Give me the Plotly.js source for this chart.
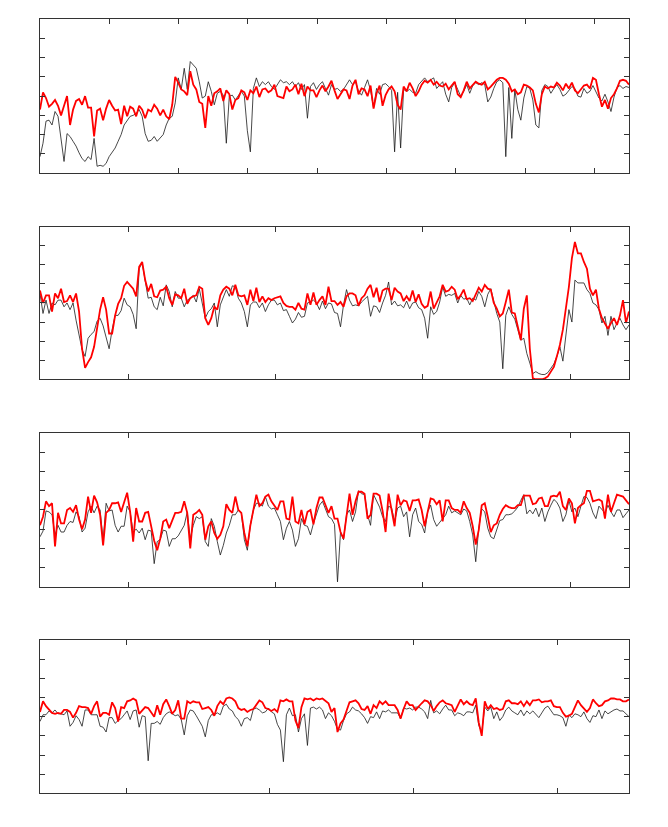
<!DOCTYPE html>
<html>
<head>
<meta charset="utf-8">
<script src="https://cdn.plot.ly/plotly-3.0.1.min.js"></script>
<style>html,body{margin:0;padding:0;background:#fff}</style>
</head>
<body>
<div id="plot" style="width:668px;height:827px"></div>
<script>
// panel 1
var blackA = [0.85,1.55,2.7,2.75,2.5,3.2,2.95,1.9,0.6,2.05,
  1.9,1.65,1.4,1.05,0.75,0.6,0.85,0.7,1.8,0.35,
  0.4,0.35,0.5,0.85,1.1,1.3,1.65,2.0,2.5,2.75,
  2.95,3.0,3.1,3.3,2.95,2.05,1.65,1.7,1.9,1.65,
  1.8,2.0,2.5,2.85,2.95,3.65,4.95,4.35,5.45,4.35,
  5.8,5.65,5.45,4.75,3.9,4.0,4.75,4.25,3.55,4.15,
  4.25,4.05,1.55,4.0,4.05,3.8,4.05,4.25,4.0,2.2,
  1.1,4.4,4.95,4.5,4.75,4.6,4.75,4.5,4.35,4.6,
  4.85,4.7,4.75,4.6,4.75,4.5,4.7,4.35,4.6,2.85,
  4.5,4.7,4.35,4.6,4.75,4.4,4.05,4.6,4.35,4.4,
  4.25,4.35,4.6,4.85,4.6,4.75,4.25,4.05,4.45,4.85,
  4.3,3.4,4.4,4.1,4.6,4.65,4.5,4.3,1.1,4.2,
  1.3,4.35,4.25,4.35,4.2,4.15,4.6,4.8,4.95,4.75,
  4.85,4.95,4.4,4.6,4.75,4.1,3.7,4.45,4.7,4.35,
  4.0,4.25,4.6,4.15,4.55,4.7,4.6,4.7,4.6,3.7,
  3.95,4.4,4.75,4.85,4.7,0.85,4.45,1.8,4.35,3.3,
  2.75,3.9,4.5,4.4,3.8,2.5,2.35,4.3,4.6,4.5,
  4.15,4.4,4.6,4.35,4.0,4.1,4.3,4.5,4.4,4.0,
  3.95,4.4,4.15,4.25,4.55,4.2,3.9,3.75,4.1,3.7,
  3.2,3.95,4.45,4.55,4.4,4.5,4.45];
var redA = [3.3,4.2,3.9,3.45,3.6,3.8,3.5,3.0,3.5,4.0,
  2.5,3.3,3.75,3.85,3.55,4.0,3.4,3.4,1.9,3.25,
  3.35,2.75,3.35,3.8,3.5,3.25,3.3,2.55,3.5,2.95,
  3.45,3.35,2.95,3.5,3.3,2.85,3.3,3.2,3.55,3.35,
  3.0,3.3,2.95,2.8,3.55,5.0,4.7,4.35,4.25,4.05,
  5.3,4.6,4.35,3.7,3.6,2.35,4.0,3.5,4.15,4.25,
  4.4,3.75,4.3,4.1,3.3,3.8,3.9,4.3,4.2,3.8,
  4.3,4.15,4.5,3.95,4.35,4.4,4.2,4.3,4.6,4.0,
  3.95,3.9,4.5,4.25,4.35,4.6,4.1,4.65,4.0,4.5,
  4.3,4.3,3.95,4.3,4.55,4.25,4.5,4.8,4.3,3.85,
  4.1,4.35,4.3,3.85,4.55,4.85,4.1,4.4,4.35,4.0,
  4.55,3.35,4.15,4.55,3.5,4.05,4.35,4.5,4.25,3.55,
  3.3,4.5,4.25,4.7,4.4,4.0,4.25,4.6,4.8,4.7,
  4.85,4.6,4.75,4.55,4.5,4.65,4.35,4.55,4.75,4.1,
  3.95,4.3,4.75,4.4,4.55,4.75,4.65,4.6,4.75,4.35,
  4.5,4.7,4.85,4.95,4.95,4.85,4.65,4.25,4.35,4.1,
  4.2,4.6,4.55,4.45,4.3,3.6,3.15,4.1,4.5,4.4,
  4.5,4.45,4.7,4.55,4.3,4.65,4.4,4.7,4.3,4.15,
  4.35,4.55,4.6,4.4,4.95,4.85,4.1,3.45,3.8,3.35,
  3.9,4.1,4.4,4.8,4.85,4.8,4.6];

// panel 2
var blackB = [4.5,3.45,4.15,3.45,4.0,3.9,4.15,4.15,3.8,4.0,
  3.65,4.0,3.1,2.25,1.55,1.2,2.15,2.35,2.5,3.05,
  3.2,2.8,2.2,1.6,2.6,3.35,3.35,3.6,4.25,3.9,
  3.8,3.4,2.65,5.8,6.1,5.1,4.25,4.3,3.8,3.65,
  4.3,3.85,4.95,4.6,3.8,4.6,4.25,4.25,3.8,4.15,
  4.25,4.4,4.05,4.75,3.9,3.2,3.55,3.7,4.0,2.75,
  3.9,4.35,4.7,4.35,4.9,4.85,4.25,4.0,3.55,2.75,
  3.9,4.05,4.05,3.75,4.0,3.55,3.9,4.15,4.15,3.9,
  4.0,3.6,3.65,3.3,2.95,3.15,3.5,3.25,3.3,4.0,
  4.05,4.15,4.0,3.65,4.1,3.7,4.0,3.95,3.5,3.45,
  2.75,3.9,4.7,4.15,3.85,3.9,3.85,4.05,4.2,4.35,
  3.3,3.85,3.8,3.5,4.0,4.4,5.1,3.9,4.1,3.85,
  3.9,3.75,4.1,3.7,4.0,4.05,3.75,3.65,3.2,2.15,
  3.8,3.4,3.55,4.05,4.85,4.35,4.45,4.4,4.5,4.0,
  4.4,4.2,4.25,3.9,4.25,4.15,4.6,4.35,3.8,4.45,
  4.75,4.05,3.45,3.0,0.55,3.35,3.8,3.4,3.15,2.6,
  2.05,2.15,1.35,0.85,0.3,0.4,0.3,0.25,0.25,0.35,
  0.6,0.8,1.2,1.7,0.95,2.35,3.65,3.0,5.2,5.05,
  5.05,5.05,4.7,4.5,4.0,3.9,3.65,2.95,3.3,2.3,
  3.3,2.6,2.95,3.2,2.85,2.6,2.85];
var redB = [4.65,4.0,4.4,4.4,3.55,4.5,4.25,4.75,4.05,4.1,
  4.4,4.05,4.5,3.55,1.6,0.6,0.9,1.15,1.7,2.75,
  3.65,4.3,3.65,2.4,2.4,3.35,3.95,4.25,4.9,5.1,
  4.9,4.75,4.35,5.9,6.15,5.2,4.6,5.0,4.35,4.3,
  4.65,4.7,4.85,4.25,3.9,4.45,4.4,4.25,4.75,3.95,
  4.25,4.35,4.4,4.85,4.75,3.2,2.85,3.2,3.8,3.65,
  4.4,4.7,4.85,4.75,4.4,4.95,4.4,4.35,4.4,3.9,
  4.7,4.1,4.8,4.05,4.35,4.05,4.25,4.15,4.25,4.3,
  4.35,4.0,3.85,3.8,3.8,3.65,4.0,3.7,3.65,4.5,
  3.9,4.55,3.9,4.15,4.35,3.9,4.85,4.1,4.1,3.9,
  4.05,3.8,4.35,4.5,4.5,4.4,3.85,4.25,4.4,4.75,
  4.95,4.3,4.8,4.05,4.65,4.75,4.75,4.15,4.8,4.6,
  4.5,4.1,4.35,4.1,4.65,4.05,4.45,3.95,3.75,3.85,
  4.6,3.7,4.05,4.35,4.95,4.6,4.65,4.85,4.7,4.2,
  4.4,4.7,4.2,4.25,4.1,4.5,4.8,4.6,4.95,4.75,
  4.7,4.0,3.7,3.3,3.45,4.05,4.7,3.5,3.45,2.75,
  2.05,3.7,4.4,1.6,0.05,0.0,0.0,0.0,0.05,0.15,
  0.4,0.65,1.2,1.8,2.6,3.65,4.85,6.35,7.2,6.6,
  6.6,6.15,5.8,4.75,4.4,4.7,3.7,3.2,2.95,2.65,
  2.95,3.2,2.85,3.35,4.15,2.95,3.55];

// panel 3
var blackC = [2.6,2.9,3.95,3.9,3.75,2.7,3.2,2.85,2.85,3.2,
  3.4,3.35,3.9,3.65,2.85,3.05,3.9,4.2,3.85,4.2,
  4.0,2.4,4.35,3.95,4.0,3.2,2.85,3.15,3.15,4.2,
  3.9,2.85,3.0,2.8,3.05,2.45,2.95,2.9,1.2,2.35,
  2.45,2.95,2.9,2.1,2.5,2.5,2.65,2.95,3.2,3.9,
  2.5,3.2,3.65,3.55,3.65,2.35,2.1,3.55,3.15,2.35,
  1.65,2.15,2.8,3.2,3.75,3.75,4.0,3.85,2.45,1.9,
  3.2,4.0,4.35,4.35,4.2,4.7,4.2,4.05,4.1,3.75,
  3.4,2.45,3.05,3.4,2.95,2.1,2.5,3.55,3.2,3.15,
  2.7,3.3,3.75,4.25,4.45,4.0,3.65,3.55,3.25,0.25,
  2.85,2.45,3.75,4.0,3.4,3.9,5.0,4.85,4.8,3.75,
  3.2,4.8,4.45,4.15,3.65,3.4,4.2,4.1,3.4,4.1,
  4.2,3.65,3.9,2.6,3.75,4.1,3.4,3.25,2.8,3.9,
  4.25,3.5,3.15,3.35,3.6,3.75,4.2,3.85,3.95,3.85,
  3.75,4.05,3.95,3.4,2.7,1.3,3.05,4.05,3.9,3.05,
  2.6,2.5,2.95,3.45,3.5,3.75,3.75,3.8,3.95,4.15,
  4.5,4.8,3.8,4.0,3.8,4.1,3.65,4.1,3.4,3.9,
  4.25,4.55,4.4,4.1,3.4,3.75,4.5,3.9,4.1,3.65,
  4.2,4.7,4.65,4.35,3.85,3.55,4.2,4.05,3.85,4.25,
  3.9,3.65,4.0,4.0,3.6,3.8,4.0];
var redC = [3.2,3.65,4.45,4.2,4.35,2.1,3.85,3.3,3.3,4.0,
  4.1,3.9,4.25,3.5,3.0,3.5,4.7,3.85,4.75,4.4,
  3.75,2.15,3.85,4.0,4.35,4.35,4.4,3.9,4.4,4.9,
  3.9,2.35,4.1,3.4,3.4,3.85,3.9,3.2,2.4,1.9,
  2.5,3.4,3.5,3.05,3.45,3.85,3.85,3.9,4.45,3.85,
  2.0,3.75,3.85,4.0,3.75,2.45,3.15,3.4,2.8,2.5,
  2.7,3.15,4.3,4.0,3.85,4.7,4.0,3.85,2.8,2.1,
  3.2,3.95,4.8,4.2,4.35,4.7,4.8,4.45,4.25,4.0,
  4.45,4.45,3.55,3.5,4.7,3.4,3.3,4.0,3.25,3.9,
  4.0,3.25,4.1,4.65,4.65,4.2,3.85,4.2,3.55,3.55,
  2.85,2.5,3.75,4.85,3.75,4.45,4.95,4.95,4.85,3.55,
  3.75,4.85,4.85,4.75,3.95,2.85,4.85,4.0,3.15,4.8,
  4.25,4.5,4.45,3.95,4.5,4.5,4.55,4.0,3.15,3.9,
  4.6,4.55,4.3,4.5,3.4,4.5,4.5,4.1,4.0,4.0,
  3.85,4.45,4.1,3.85,3.15,2.2,2.95,4.25,4.35,3.65,
  2.85,3.2,3.3,3.75,4.05,4.25,4.15,4.1,4.1,4.25,
  4.25,4.75,4.75,4.75,4.3,4.35,4.6,4.65,4.2,4.2,
  4.7,4.75,4.7,4.95,4.2,4.0,4.6,4.35,3.3,4.1,
  4.25,4.35,5.0,5.0,4.45,4.5,4.55,4.45,3.55,4.8,
  3.9,4.35,4.8,4.75,4.7,4.5,4.3];

// panel 4
var blackD = [3.75,4.1,4.1,4.3,4.2,4.35,4.15,4.15,4.1,4.3,
  3.5,3.7,4.05,3.85,3.5,4.35,4.35,4.1,4.1,4.1,
  3.5,3.45,3.2,3.95,3.95,3.65,3.8,3.9,4.1,4.3,
  3.85,4.3,4.35,3.45,4.05,4.0,1.7,3.65,3.65,3.75,
  3.6,3.95,4.15,4.25,4.15,4.05,4.1,3.85,3.05,4.05,
  4.35,4.3,4.05,3.75,3.5,2.95,3.8,4.1,4.1,4.2,
  4.1,4.55,4.65,4.4,4.3,4.0,3.85,3.5,3.9,3.95,
  3.8,4.4,4.45,4.35,4.2,4.25,4.45,4.25,4.15,3.6,
  3.3,1.65,4.1,4.45,4.05,4.1,3.2,3.9,4.15,2.5,
  4.45,4.5,4.4,4.5,4.35,3.9,4.2,4.05,3.75,3.35,
  3.3,3.8,4.15,4.25,4.5,4.35,4.3,4.15,3.95,3.65,
  4.0,3.95,4.25,3.9,4.3,4.25,4.35,4.2,4.2,4.2,
  3.9,4.45,4.4,4.45,4.35,4.5,4.5,4.4,4.25,3.9,
  4.85,4.2,4.3,4.15,4.4,4.6,4.35,4.35,4.05,4.2,
  4.15,4.05,4.25,4.25,4.2,4.6,3.55,3.2,4.5,4.3,
  4.5,3.9,4.25,3.8,4.0,4.35,4.5,4.3,4.2,4.1,
  4.35,4.05,4.3,4.15,4.3,4.1,3.95,4.2,4.45,4.55,
  4.35,4.1,4.1,4.05,3.95,3.5,4.1,3.95,4.15,4.1,
  4.0,4.25,3.9,3.7,4.05,4.0,4.35,3.9,4.3,4.15,
  4.25,4.35,4.4,4.3,4.3,4.15,4.0];
var redD = [4.25,4.8,4.55,4.4,4.2,4.15,4.2,4.15,4.35,4.35,
  4.25,3.95,4.2,4.55,4.5,4.5,4.45,4.15,4.55,4.8,
  4.0,4.2,4.2,4.1,4.75,4.45,3.75,4.5,4.45,4.8,
  4.85,4.95,4.85,4.15,4.3,4.5,4.45,4.25,4.0,4.6,
  4.1,4.65,4.9,4.55,4.15,4.35,4.85,3.9,3.9,4.8,
  4.7,4.8,4.75,4.75,4.4,4.45,4.5,4.35,4.05,4.55,
  4.8,4.65,4.95,5.0,4.95,4.8,4.45,4.35,4.4,4.25,
  4.35,4.4,4.6,4.85,4.75,4.45,4.4,4.3,4.4,4.25,
  4.85,4.8,4.9,4.8,4.8,3.8,3.4,4.5,4.95,4.9,
  4.95,4.85,4.95,4.9,4.95,4.8,4.7,4.25,4.45,3.2,
  3.65,3.85,4.3,4.75,4.8,4.85,4.7,4.4,4.35,4.55,
  4.15,4.6,4.45,4.8,4.65,4.8,4.6,4.6,4.6,4.35,
  3.9,4.4,4.8,4.6,4.6,4.35,4.55,4.7,4.85,4.8,
  4.6,4.3,4.55,4.75,4.85,4.7,4.65,4.6,4.25,4.6,
  4.9,4.65,4.8,4.65,4.6,4.95,3.7,3.0,4.8,4.4,
  4.6,4.4,4.45,4.35,4.4,4.8,4.85,4.7,4.7,4.65,
  4.8,4.55,4.8,4.6,4.85,4.85,4.9,4.75,4.8,4.8,
  4.85,4.55,4.5,4.5,4.2,4.0,4.05,4.15,4.5,4.85,
  4.6,4.4,4.25,4.45,4.9,4.7,4.55,4.6,4.8,4.85,
  4.95,4.95,4.9,4.9,4.8,4.8,4.9];

var panels = [
  {black: blackA, red: redA, x0: 0,   x1: 850,  ticks: [100,200,300,400,500,600,700,800], dom: [0.7908, 0.9767]},
  {black: blackB, red: redB, x0: 400, x1: 4400, ticks: [1000,2000,3000,4000], dom: [0.5414, 0.7259]},
  {black: blackC, red: redC, x0: 400, x1: 4400, ticks: [1000,2000,3000,4000], dom: [0.2906, 0.4761]},
  {black: blackD, red: redD, x0: 400, x1: 4500, ticks: [1000,2000,3000,4000], dom: [0.0407, 0.2261]}
];

var data = [];
var layout = {
  width: 668, height: 827,
  margin: {l: 40, r: 39, t: 0, b: 0},
  paper_bgcolor: "white", plot_bgcolor: "white",
  showlegend: false
};

panels.forEach(function (p, k) {
  var n = p.black.length;
  var x = p.black.map(function (v, i) { return p.x0 + i * (p.x1 - p.x0) / (n - 1); });
  var suffix = k === 0 ? "" : String(k + 1);
  data.push({x: x, y: p.black, type: "scatter", mode: "lines", xaxis: "x" + suffix, yaxis: "y" + suffix,
    line: {color: "#1a1a1a", width: 0.8}, hoverinfo: "skip"});
  data.push({x: x, y: p.red, type: "scatter", mode: "lines", xaxis: "x" + suffix, yaxis: "y" + suffix,
    line: {color: "#ff0000", width: 1.8}, hoverinfo: "skip"});

  var common = {showline: true, mirror: "ticks", linecolor: "#333", linewidth: 1,
    ticks: "inside", ticklen: 5, tickcolor: "#333", tickwidth: 1,
    showticklabels: false, showgrid: false, zeroline: false, fixedrange: true};
  layout["xaxis" + suffix] = Object.assign({}, common, {
    range: [p.x0, p.x1], tickmode: "array", tickvals: p.ticks, anchor: "y" + suffix
  });
  layout["yaxis" + suffix] = Object.assign({}, common, {
    range: [0, 8], tickmode: "array", tickvals: [1,2,3,4,5,6,7], domain: p.dom, anchor: "x" + suffix
  });
});

Plotly.newPlot("plot", data, layout, {staticPlot: true});
</script>
</body>
</html>
